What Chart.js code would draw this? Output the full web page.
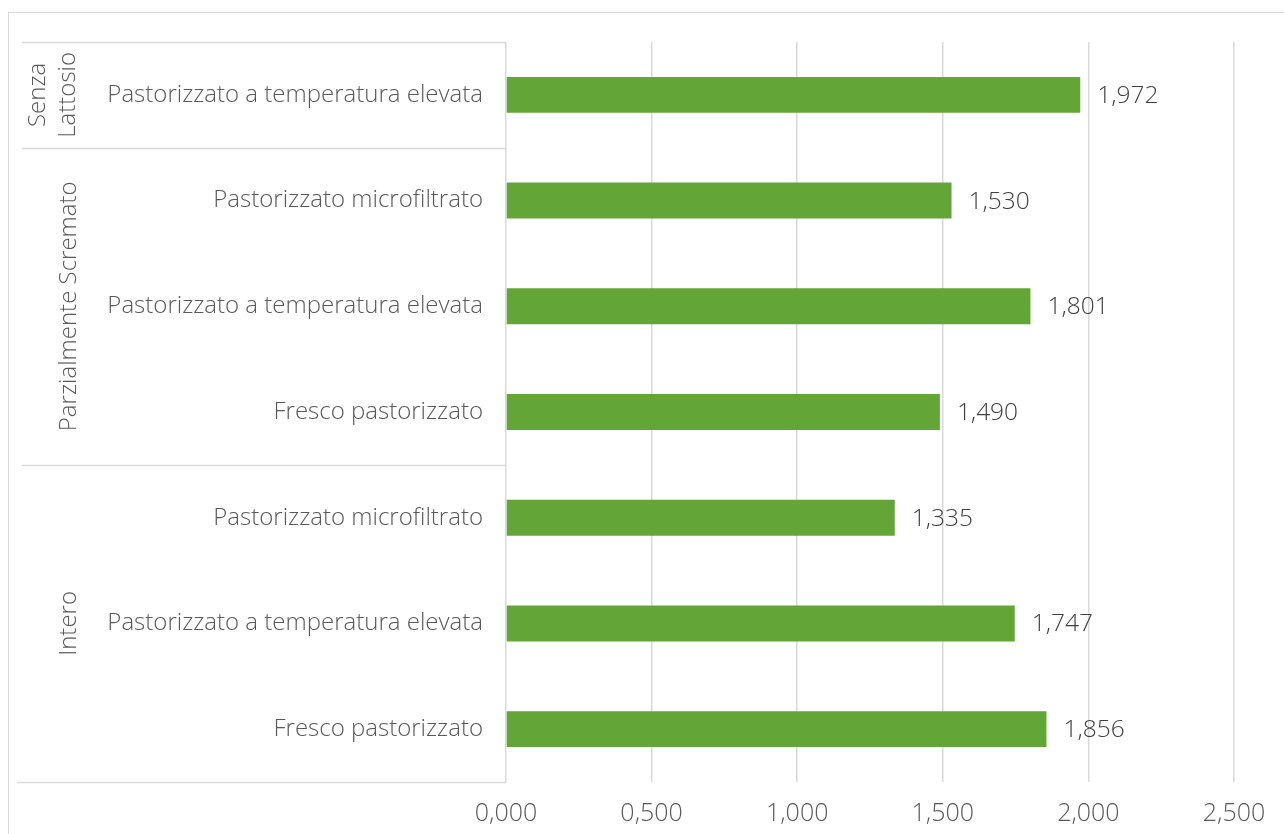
<!DOCTYPE html>
<html>
<head>
<meta charset="utf-8">
<script src="https://cdn.jsdelivr.net/npm/chart.js@4"></script>
<style>
  html, body { margin: 0; padding: 0; background: #fff; }
  #wrap { position: relative; width: 1284px; height: 834px; }
  #frame { position: absolute; left: 8px; top: 12px; right: -2px; bottom: -2px;
           border-top: 1.5px solid #d9d9d9; border-left: 1.5px solid #d9d9d9; }
  canvas { position: absolute; left: 0; top: 0; }
</style>
</head>
<body>
<div id="wrap">
  <div id="frame"></div>
  <canvas id="chart" width="1284" height="834"></canvas>
</div>
<script>
// categories, top to bottom
const categories = [
  'Pastorizzato a temperatura elevata',
  'Pastorizzato microfiltrato',
  'Pastorizzato a temperatura elevata',
  'Fresco pastorizzato',
  'Pastorizzato microfiltrato',
  'Pastorizzato a temperatura elevata',
  'Fresco pastorizzato'
];
const values = [1.972, 1.530, 1.801, 1.490, 1.335, 1.747, 1.856];
// groups: label lines, first index, last index
const groupLabels = [['Senza', 'Lattosio'], ['Parzialmente Scremato'], ['Intero']];
const groupStart = [0, 1, 4];
const groupEnd = [0, 3, 6];
const xTicks = [0, 0.5, 1, 1.5, 2, 2.5];

const fmt = v => v.toFixed(3).replace('.', ',');
const FONT = '"Open Sans", "Liberation Sans", sans-serif';

const groupPlugin = {
  id: 'groups',
  afterDraw(chart) {
    const ctx = chart.ctx;
    const y = chart.scales.y;
    const area = chart.chartArea;
    const half = (y.getPixelForValue(1) - y.getPixelForValue(0)) / 2;

    ctx.save();
    ctx.strokeStyle = '#d9d9d9';
    ctx.lineWidth = 1.5;
    const lines = [area.top];
    groupEnd.forEach(e => lines.push(y.getPixelForValue(e) + half));
    lines.forEach((py, i) => {
      ctx.beginPath();
      ctx.moveTo(i === lines.length - 1 ? 17 : 22, Math.round(py) + 0.5);
      ctx.lineTo(area.left, Math.round(py) + 0.5);
      ctx.stroke();
    });

    ctx.fillStyle = '#595959';
    ctx.font = '300 24px ' + FONT;
    ctx.textAlign = 'center';
    ctx.textBaseline = 'middle';
    groupLabels.forEach((lbl, g) => {
      const cy = (y.getPixelForValue(groupStart[g]) + y.getPixelForValue(groupEnd[g])) / 2;
      const xs = lbl.length === 2 ? [38, 68] : [69];
      lbl.forEach((t, k) => {
        ctx.save();
        ctx.translate(xs[k], cy);
        ctx.rotate(-Math.PI / 2);
        ctx.fillText(t, 0, 0);
        ctx.restore();
      });
    });

    // value labels
    ctx.fillStyle = '#404040';
    ctx.font = '300 24.5px ' + FONT;
    ctx.textAlign = 'left';
    const meta = chart.getDatasetMeta(0);
    meta.data.forEach((bar, i) => {
      ctx.fillText(fmt(values[i]), bar.x + 17, bar.y + 1);
    });
    ctx.restore();
  }
};

new Chart(document.getElementById('chart'), {
  type: 'bar',
  data: {
    labels: categories,
    datasets: [{
      data: values,
      backgroundColor: '#64a537',
      barPercentage: 0.34,
      categoryPercentage: 1
    }]
  },
  options: {
    indexAxis: 'y',
    responsive: false,
    animation: false,
    layout: { padding: { top: 42, right: 50, left: 0, bottom: 0 } },
    plugins: { legend: { display: false }, tooltip: { enabled: false } },
    scales: {
      x: {
        min: 0,
        max: 2.5,
        afterBuildTicks: s => { s.ticks = xTicks.map(v => ({ value: v })); },
        afterFit: s => { s.height = 52; },
        grid: { color: '#d9d9d9', lineWidth: 1.5, drawTicks: false },
        border: { display: false },
        ticks: {
          padding: 17,
          color: '#595959',
          font: { size: 25, family: FONT, weight: 300 },
          callback: v => fmt(v)
        }
      },
      y: {
        afterFit: s => { s.width = 506; },
        grid: { display: false, drawTicks: false },
        border: { display: false },
        ticks: {
          padding: 23,
          color: '#595959',
          font: { size: 24, family: FONT, weight: 300 }
        }
      }
    }
  },
  plugins: [groupPlugin]
});
</script>
</body>
</html>
